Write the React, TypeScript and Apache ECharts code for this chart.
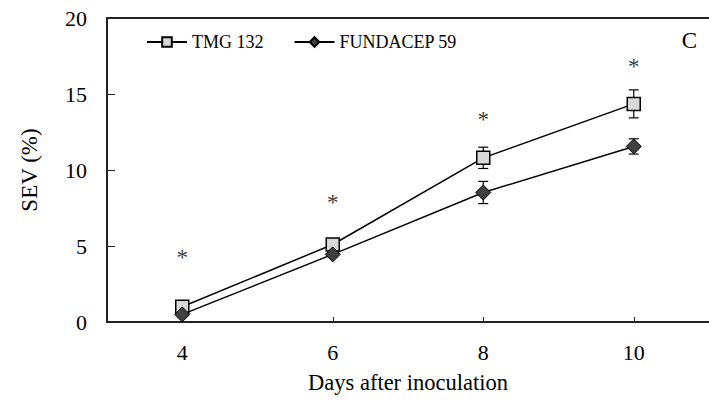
import React, { useEffect, useRef } from "react";
import * as echarts from "echarts";

const days = [4, 6, 8, 10];
const tmgValues = [1.0, 5.1, 10.8, 14.35];
const tmgErrors = [0, 0, 0.7, 0.92];
const fundValues = [0.5, 4.45, 8.52, 11.55];
const fundErrors = [0, 0, 0.73, 0.5];
const asteriskY = [4.5, 8.1, 13.6, 17.1];
const yTicks = [0, 5, 10, 15, 20];

const FONT = "Liberation Serif";

export default function App() {
  const ref = useRef<HTMLDivElement>(null);
  useEffect(() => {
    if (!ref.current) return;
    const chart = echarts.init(ref.current, undefined, { renderer: "svg" });
    const errData: number[][] = [];
    days.forEach((d, i) => {
      if (tmgErrors[i] > 0) errData.push([d, tmgValues[i], tmgErrors[i]]);
      if (fundErrors[i] > 0) errData.push([d, fundValues[i], fundErrors[i]]);
    });
    chart.setOption({
      animation: false,
      textStyle: { fontFamily: FONT },
      title: {
        text: "C",
        right: 7,
        top: 24,
        textStyle: { fontFamily: FONT, fontSize: 23, fontWeight: "normal", color: "#000" },
      },
      legend: {
        left: 141,
        top: 28,
        itemWidth: 40,
        itemHeight: 12,
        itemGap: 30,
        textStyle: { fontFamily: FONT, fontSize: 18, color: "#000" },
        data: ["TMG 132", "FUNDACEP 59"],
      },
      grid: { left: 107, right: 0, top: 18, bottom: 81 },
      xAxis: [
        {
          type: "value",
          min: 3,
          max: 11,
          name: "Days after inoculation",
          nameLocation: "middle",
          nameGap: 49,
          nameTextStyle: { fontFamily: FONT, fontSize: 22.5, color: "#000" },
          axisLine: { lineStyle: { color: "#222", width: 2 } },
          axisTick: { inside: true, length: 5, customValues: days, lineStyle: { color: "#222" } },
          axisLabel: { customValues: days, margin: 19, fontFamily: FONT, fontSize: 22, color: "#000" },
          splitLine: { show: false },
        },
        {
          type: "value",
          position: "top",
          min: 3,
          max: 11,
          axisLine: { show: true, lineStyle: { color: "#222", width: 2 } },
          axisTick: { show: false },
          axisLabel: { show: false },
          splitLine: { show: false },
        },
      ],
      yAxis: {
        type: "value",
        min: 0,
        max: 20,
        interval: 5,
        name: "SEV (%)",
        nameLocation: "middle",
        nameGap: 66,
        nameTextStyle: { fontFamily: FONT, fontSize: 23, color: "#000" },
        axisLine: { show: true, lineStyle: { color: "#222", width: 2 } },
        axisTick: { show: true, inside: true, length: 8, customValues: yTicks, lineStyle: { color: "#222" } },
        axisLabel: { margin: 20, fontFamily: FONT, fontSize: 22, color: "#000" },
        splitLine: { show: false },
      },
      series: [
        {
          type: "custom",
          name: "err",
          z: 1,
          data: errData,
          renderItem: (params: any, api: any) => {
            const x = api.value(0);
            const y = api.value(1);
            const e = api.value(2);
            const top = api.coord([x, y + e]);
            const bot = api.coord([x, y - e]);
            const w = 5;
            const style = { stroke: "#000", lineWidth: 1.2 };
            return {
              type: "group",
              children: [
                { type: "line", shape: { x1: top[0], y1: top[1], x2: bot[0], y2: bot[1] }, style },
                { type: "line", shape: { x1: top[0] - w, y1: top[1], x2: top[0] + w, y2: top[1] }, style },
                { type: "line", shape: { x1: bot[0] - w, y1: bot[1], x2: bot[0] + w, y2: bot[1] }, style },
              ],
            };
          },
        },
        {
          type: "line",
          name: "TMG 132",
          z: 3,
          data: days.map((d, i) => [d, tmgValues[i]]),
          symbol: "rect",
          symbolSize: 13,
          lineStyle: { color: "#000", width: 1.5 },
          itemStyle: { color: "#d9d9d9", borderColor: "#000", borderWidth: 1.5 },
        },
        {
          type: "line",
          name: "FUNDACEP 59",
          z: 4,
          data: days.map((d, i) => [d, fundValues[i]]),
          symbol: "diamond",
          symbolSize: 15,
          lineStyle: { color: "#000", width: 1.5 },
          itemStyle: { color: "#404040", borderColor: "#000", borderWidth: 1 },
        },
        {
          type: "scatter",
          name: "sig",
          z: 5,
          data: days.map((d, i) => [d, asteriskY[i]]),
          symbolSize: 1,
          itemStyle: { color: "rgba(0,0,0,0)" },
          label: {
            show: true,
            position: "inside",
            formatter: "*",
            fontFamily: FONT,
            fontSize: 23,
            color: "#000",
            textBorderWidth: 0,
            offset: [0, 4],
          },
        },
      ],
    });
    return () => chart.dispose();
  }, []);
  return <div ref={ref} style={{ width: 709, height: 403, position: "absolute", left: 0, top: 0 }} />;
}
